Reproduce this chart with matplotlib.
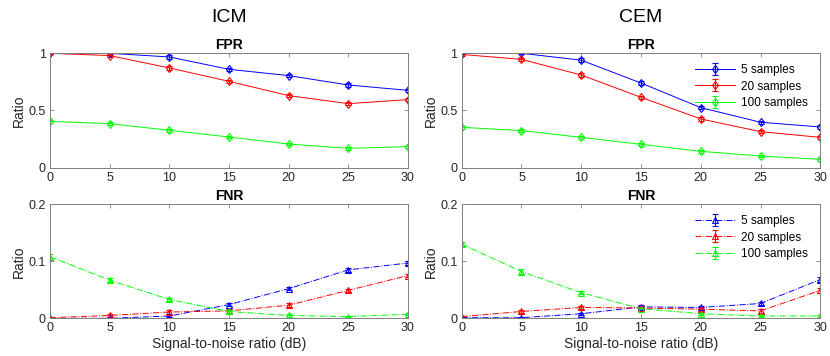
import numpy as np
import matplotlib
matplotlib.use('Agg')
import matplotlib.pyplot as plt

plt.rcParams['font.family'] = ['Liberation Sans', 'DejaVu Sans']

snr = [0, 5, 10, 15, 20, 25, 30]
labels = ['5 samples', '20 samples', '100 samples']
colors = ['#0000ff', '#ff0000', '#00ff00']

# FPR (mean, err) for 5 / 20 / 100 samples
icm_fpr = [
    [1.0, 1.0, 0.968, 0.86, 0.805, 0.723, 0.676],
    [1.0, 0.98, 0.872, 0.755, 0.63, 0.56, 0.595],
    [0.405, 0.385, 0.327, 0.268, 0.207, 0.169, 0.184],
]
icm_fpr_err = [
    [0.005, 0.01, 0.015, 0.015, 0.015, 0.015, 0.015],
    [0.005, 0.015, 0.015, 0.015, 0.015, 0.015, 0.015],
    [0.012, 0.012, 0.012, 0.012, 0.012, 0.012, 0.012],
]
cem_fpr = [
    [1.0, 1.0, 0.94, 0.74, 0.525, 0.397, 0.356],
    [0.99, 0.947, 0.81, 0.615, 0.426, 0.315, 0.265],
    [0.353, 0.324, 0.265, 0.204, 0.143, 0.102, 0.073],
]
cem_fpr_err = [
    [0.005, 0.01, 0.015, 0.015, 0.015, 0.015, 0.015],
    [0.01, 0.015, 0.015, 0.015, 0.015, 0.015, 0.015],
    [0.012, 0.012, 0.012, 0.012, 0.012, 0.012, 0.012],
]

# FNR
icm_fnr = [
    [0.0, 0.0, 0.004, 0.024, 0.052, 0.085, 0.097],
    [0.001, 0.005, 0.011, 0.013, 0.023, 0.049, 0.075],
    [0.108, 0.067, 0.033, 0.012, 0.005, 0.003, 0.007],
]
icm_fnr_err = [
    [0.0005, 0.001, 0.002, 0.003, 0.003, 0.003, 0.003],
    [0.001, 0.002, 0.003, 0.003, 0.003, 0.003, 0.003],
    [0.004, 0.004, 0.003, 0.002, 0.002, 0.001, 0.002],
]
cem_fnr = [
    [0.001, 0.001, 0.008, 0.02, 0.019, 0.026, 0.068],
    [0.003, 0.012, 0.019, 0.018, 0.016, 0.013, 0.049],
    [0.13, 0.082, 0.045, 0.017, 0.008, 0.004, 0.004],
]
cem_fnr_err = [
    [0.001, 0.001, 0.002, 0.003, 0.003, 0.003, 0.004],
    [0.001, 0.002, 0.003, 0.003, 0.003, 0.003, 0.004],
    [0.004, 0.004, 0.003, 0.002, 0.002, 0.001, 0.001],
]

fig = plt.figure(figsize=(8.3, 3.56), dpi=100)
ax_tl = fig.add_axes([0.0602, 0.529, 0.4313, 0.3213])
ax_tr = fig.add_axes([0.5563, 0.529, 0.432, 0.3213])
ax_bl = fig.add_axes([0.0602, 0.1059, 0.4313, 0.3202])
ax_br = fig.add_axes([0.5563, 0.1059, 0.432, 0.3202])


def draw(ax, vals, errs, marker, ls, top):
    for v, e, c, lab in zip(vals, errs, colors, labels):
        ax.errorbar(snr, v, yerr=e, color=c, marker=marker, ls=ls, lw=0.7,
                    mfc='none', mec=c, ms=4.5, mew=0.8, capsize=2,
                    elinewidth=0.8, capthick=0.8, label=lab)
    ax.set_xlim(0, 30)
    ax.set_xticks(snr)
    if top:
        ax.set_ylim(0, 1)
        ax.set_yticks([0, 0.5, 1])
        ax.set_yticklabels(['0', '0.5', '1'])
        ax.set_title('FPR', fontsize=10, fontweight='bold', pad=3)
    else:
        ax.set_ylim(0, 0.2)
        ax.set_yticks([0, 0.1, 0.2])
        ax.set_yticklabels(['0', '0.1', '0.2'])
        ax.set_title('FNR', fontsize=10, fontweight='bold', pad=3)
        ax.set_xlabel('Signal-to-noise ratio (dB)', fontsize=10, color='#262626', labelpad=2)
    ax.set_ylabel('Ratio', fontsize=10, color='#262626', labelpad=2)
    ax.tick_params(direction='in', top=True, right=True, labelsize=9,
                   length=3, width=0.6, color='#808080', labelcolor='#262626', pad=3)
    for s in ax.spines.values():
        s.set_linewidth(0.7)
        s.set_color('#808080')


draw(ax_tl, icm_fpr, icm_fpr_err, 'd', '-', True)
draw(ax_tr, cem_fpr, cem_fpr_err, 'd', '-', True)
draw(ax_bl, icm_fnr, icm_fnr_err, '^', '-.', False)
draw(ax_br, cem_fnr, cem_fnr_err, '^', '-.', False)

for ax in (ax_tr, ax_br):
    ax.legend(loc='upper left', bbox_to_anchor=(0.63, 0.97), frameon=False,
              fontsize=8.5, handlelength=3.4, handletextpad=0.5,
              labelspacing=0.4, borderaxespad=0.2)

fig.text(0.2758, 0.95, 'ICM', ha='center', va='center', fontsize=14)
fig.text(0.7723, 0.95, 'CEM', ha='center', va='center', fontsize=14)

fig.savefig('out.png', dpi=100)
